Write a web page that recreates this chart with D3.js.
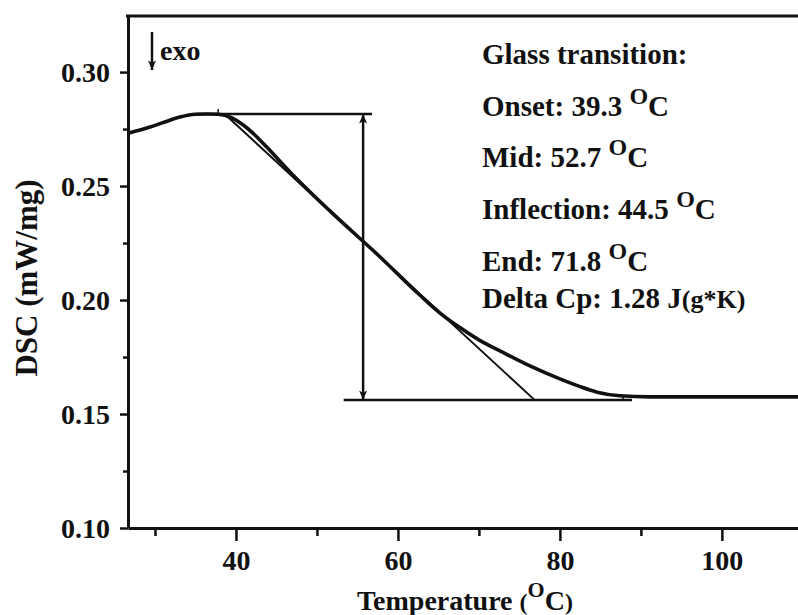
<!DOCTYPE html>
<html>
<head>
<meta charset="utf-8">
<script src="https://cdn.jsdelivr.net/npm/d3@7"></script>
<style>
  html, body { margin: 0; padding: 0; background: #fff; }
  svg { display: block; }
  text { font-family: "Liberation Serif", "Times New Roman", serif; font-weight: bold; fill: #111; }
</style>
</head>
<body>
<svg id="chart" width="798" height="615"></svg>
<script>
// DSC heat-flow trace through the glass transition
const temperature = [26.7, 29.4, 31.2, 33.1, 35.0, 36.5, 37.8, 39.5, 40.9, 42.4, 43.8, 46.7, 51.6, 57.8, 62.7, 65.2, 67.7, 70.1, 72.6, 76.3, 80.0, 82.5, 84.6, 87.4, 91.1, 97.3, 109.4];
const dsc = [0.2732, 0.2759, 0.2781, 0.2803, 0.2815, 0.2816, 0.2815, 0.2799, 0.2768, 0.2722, 0.2671, 0.2561, 0.2391, 0.2189, 0.2022, 0.1943, 0.1878, 0.1823, 0.1777, 0.1711, 0.1654, 0.1620, 0.1596, 0.1580, 0.1575, 0.1575, 0.1575];

// Construction lines for the glass-transition analysis
const upperBaseline = [[35.2, 0.2816], [56.8, 0.2816]];
const lowerBaseline = [[53.3, 0.1561], [88.9, 0.1561]];
const tangentLine = [[38.6, 0.2816], [76.9, 0.1561]];
const stepArrow = [[55.7, 0.2816], [55.7, 0.1561]];
const limitMarks = [[37.8, 0.2816], [87.8, 0.1561]];

// Axis ticks
const xMajorTicks = [40, 60, 80, 100];
const xMinorTicks = [30, 50, 70, 90];
const yMajorTicks = [0.10, 0.15, 0.20, 0.25, 0.30];
const yMinorTicks = [0.125, 0.175, 0.225, 0.275];

// Result text block
const resultLines = [
  { label: "Glass transition:", sup: "", unit: "" },
  { label: "Onset: 39.3 ", sup: "O", unit: "C" },
  { label: "Mid: 52.7 ", sup: "O", unit: "C" },
  { label: "Inflection: 44.5 ", sup: "O", unit: "C" },
  { label: "End: 71.8 ", sup: "O", unit: "C" },
  { label: "Delta Cp: 1.28 J", sup: "", unit: "(g*K)" }
];

const svg = d3.select("#chart");
const plotLeft = 128, plotBottom = 528, plotTop = 16, plotRight = 798;

const x = d3.scaleLinear().domain([26.67, 109.4]).range([plotLeft, plotRight]);
const y = d3.scaleLinear().domain([0.10, 0.3246]).range([plotBottom, plotTop]);

const defs = svg.append("defs");
function arrowMarker(id, orient) {
  defs.append("marker")
    .attr("id", id).attr("viewBox", "0 0 10 12")
    .attr("refX", 5).attr("refY", 12)
    .attr("markerWidth", 8).attr("markerHeight", 11)
    .attr("markerUnits", "userSpaceOnUse")
    .attr("orient", orient)
    .append("path").attr("d", "M0,0 L5,12 L10,0 L5,3 Z").attr("fill", "#111");
}
arrowMarker("headDown", 0);
arrowMarker("headUp", 180);

// Axes
const yAxis = svg.append("g").attr("transform", `translate(${plotLeft},0)`)
  .call(d3.axisLeft(y).tickValues(yMajorTicks).tickFormat(d3.format(".2f")).tickSize(8).tickSizeOuter(0).tickPadding(10));
svg.append("g").attr("transform", `translate(${plotLeft},0)`)
  .call(d3.axisLeft(y).tickValues(yMinorTicks).tickFormat("").tickSize(5).tickSizeOuter(0))
  .select(".domain").remove();

const xAxis = svg.append("g").attr("transform", `translate(0,${plotBottom})`)
  .call(d3.axisBottom(x).tickValues(xMajorTicks).tickFormat(d3.format("d")).tickSize(13).tickSizeOuter(0).tickPadding(8));
svg.append("g").attr("transform", `translate(0,${plotBottom})`)
  .call(d3.axisBottom(x).tickValues(xMinorTicks).tickFormat("").tickSize(8).tickSizeOuter(0))
  .select(".domain").remove();

svg.selectAll(".domain").attr("stroke", "#111").attr("stroke-width", 3);
svg.selectAll(".tick line").attr("stroke", "#111").attr("stroke-width", 2.5);
svg.selectAll(".tick text").attr("font-size", 28).attr("font-family", "Liberation Serif, serif").attr("font-weight", "bold").attr("fill", "#111");
yAxis.selectAll(".tick text").attr("dy", "0.34em");
xAxis.selectAll(".tick text").attr("dy", "0.75em");

// Top frame line
svg.append("line").attr("x1", plotLeft - 2).attr("x2", plotRight).attr("y1", plotTop).attr("y2", plotTop)
  .attr("stroke", "#111").attr("stroke-width", 3);

// Axis titles
svg.append("text")
  .attr("transform", `translate(37,278) rotate(-90)`)
  .attr("text-anchor", "middle").attr("font-size", 31)
  .text("DSC (mW/mg)");

const xt = svg.append("text").attr("x", 357).attr("y", 610).attr("font-size", 28);
xt.append("tspan").text("Temperature ");
xt.append("tspan").attr("font-size", 24).text("(");
xt.append("tspan").attr("font-size", 22).attr("dy", -13).text("O");
xt.append("tspan").attr("dy", 13).text("C");
xt.append("tspan").attr("font-size", 24).text(")");

// Construction lines
const line = d3.line().x(d => x(d[0])).y(d => y(d[1]));
svg.append("path").attr("d", line(upperBaseline)).attr("fill", "none").attr("stroke", "#111").attr("stroke-width", 2.5);
svg.append("path").attr("d", line(lowerBaseline)).attr("fill", "none").attr("stroke", "#111").attr("stroke-width", 2.5);
svg.append("path").attr("d", line(tangentLine)).attr("fill", "none").attr("stroke", "#111").attr("stroke-width", 2);
svg.append("path").attr("d", line(stepArrow)).attr("fill", "none").attr("stroke", "#111").attr("stroke-width", 2.5)
  .attr("marker-start", "url(#headUp)").attr("marker-end", "url(#headDown)");
svg.selectAll(".limit").data(limitMarks).join("line").attr("class", "limit")
  .attr("x1", d => x(d[0])).attr("x2", d => x(d[0]))
  .attr("y1", d => y(d[1]) - 5).attr("y2", d => y(d[1]))
  .attr("stroke", "#111").attr("stroke-width", 1.5);

// DSC curve
const curve = d3.line()
  .x((d, i) => x(temperature[i]))
  .y(d => y(d))
  .curve(d3.curveMonotoneX);
svg.append("path").attr("d", curve(dsc)).attr("fill", "none")
  .attr("stroke", "#111").attr("stroke-width", 3.6).attr("stroke-linejoin", "round");

// exo direction marker
svg.append("line").attr("x1", 152).attr("x2", 152).attr("y1", 32).attr("y2", 70)
  .attr("stroke", "#111").attr("stroke-width", 2.5).attr("marker-end", "url(#headDown)");
svg.append("text").attr("x", 160).attr("y", 60).attr("font-size", 28).text("exo");

// Results block
const baselines = [64, 116, 167, 219, 271, 308];
resultLines.forEach((r, i) => {
  const t = svg.append("text").attr("x", 482).attr("y", baselines[i]).attr("font-size", 29);
  t.append("tspan").text(r.label);
  if (r.sup) {
    t.append("tspan").attr("font-size", 24).attr("dy", -12).text(r.sup);
    t.append("tspan").attr("dy", 12).text(r.unit);
  } else if (r.unit) {
    t.append("tspan").attr("font-size", 26).text(r.unit);
  }
});
</script>
</body>
</html>
